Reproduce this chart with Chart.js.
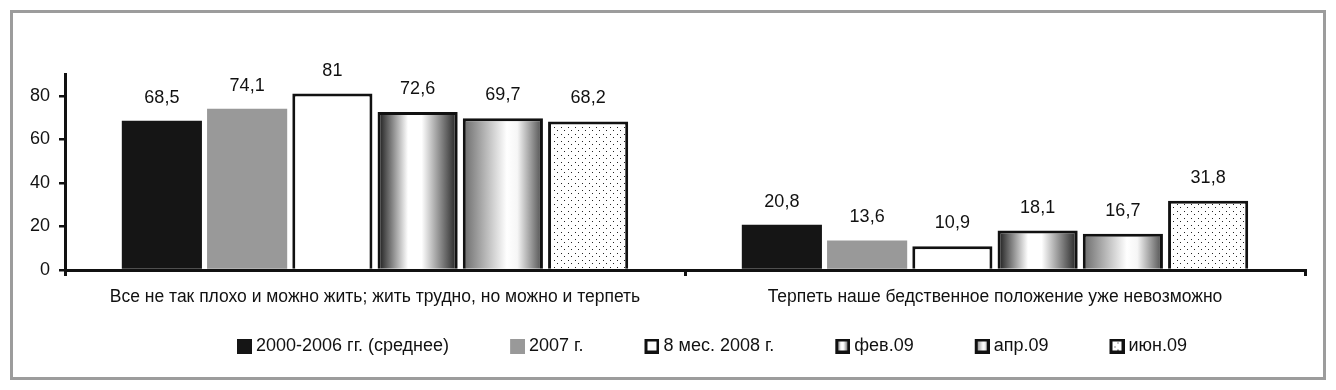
<!DOCTYPE html>
<html>
<head>
<meta charset="utf-8">
<script src="https://cdn.jsdelivr.net/npm/chart.js@4"></script>
<style>
  body { margin: 0; background: #fff; }
  #wrap { width: 1336px; height: 390px; }
</style>
</head>
<body>
<div id="wrap"><canvas id="chart" width="1336" height="390"></canvas></div>
<script>
// data
const categories = [
  "Все не так плохо и можно жить; жить трудно, но можно и терпеть",
  "Терпеть наше бедственное положение уже невозможно",
];
const seriesNames = ["2000-2006 гг. (среднее)", "2007 г.", "8 мес. 2008 г.", "фев.09", "апр.09", "июн.09"];
const avg2000to2006 = [68.5, 20.8];
const year2007 = [74.1, 13.6];
const months8of2008 = [81, 10.9];
const feb09 = [72.6, 18.1];
const apr09 = [69.7, 16.7];
const jun09 = [68.2, 31.8];
const yMin = 0;
const yMax = 90;
const yStep = 20;

const CAT_PCT = 0.825;
const BAR_PCT = 0.94;
const FONT = "'Liberation Sans', Arial, sans-serif";
const FS = 18;
const INK = "#111";

// gradient stops for the two shaded series
const febStops = [[0, "#141414"], [0.38, "#ffffff"], [0.55, "#ffffff"], [1, "#1e1e1e"]];
const aprStops = [[0, "#6a6a6a"], [0.55, "#ffffff"], [0.68, "#f6f6f6"], [1, "#4a4a4a"]];

function dotTile() {
  const c = document.createElement("canvas");
  c.width = 7;
  c.height = 7;
  const g = c.getContext("2d");
  g.fillStyle = "#fff";
  g.fillRect(0, 0, 7, 7);
  g.fillStyle = "#222";
  g.fillRect(1, 1, 1, 1);
  g.fillRect(4, 4, 1, 1);
  return c;
}
const dots = document.getElementById("chart").getContext("2d").createPattern(dotTile(), "repeat");

// horizontal gradient spread over each bar, bar position taken from the x scale
function barGradient(stops) {
  return function (context) {
    const chart = context.chart;
    const xs = chart.scales.x;
    if (!chart.chartArea || !xs || context.dataIndex === undefined) return stops[1][1];
    const catW = xs.width / categories.length;
    const groupW = catW * CAT_PCT;
    const slot = groupW / seriesNames.length;
    const barW = slot * BAR_PCT;
    const cx = xs.getPixelForValue(context.dataIndex) - groupW / 2 + slot * (context.datasetIndex + 0.5);
    const left = cx - barW / 2;
    if (!isFinite(left) || !(barW > 0)) return stops[1][1];
    const grad = chart.ctx.createLinearGradient(left, 0, left + barW, 0);
    stops.forEach((s) => grad.addColorStop(s[0], s[1]));
    return grad;
  };
}

// legend icons: a wide transparent canvas with the 15px swatch at its right end
const ICON_W = 74;
const ICON_BOX = 15;
function legendIcon(kind) {
  const c = document.createElement("canvas");
  c.width = ICON_W;
  c.height = ICON_BOX;
  const g = c.getContext("2d");
  const x0 = ICON_W - ICON_BOX;
  if (kind === 0) {
    g.fillStyle = "#151515";
    g.fillRect(x0, 0, ICON_BOX, ICON_BOX);
  } else if (kind === 1) {
    g.fillStyle = "#999";
    g.fillRect(x0, 0, ICON_BOX, ICON_BOX);
  } else {
    if (kind === 2) {
      g.fillStyle = "#fff";
    } else if (kind === 5) {
      g.fillStyle = g.createPattern(dotTile(), "repeat");
    } else {
      const grad = g.createLinearGradient(x0, 0, x0 + ICON_BOX, 0);
      (kind === 3 ? febStops : aprStops).forEach((s) => grad.addColorStop(s[0], s[1]));
      g.fillStyle = grad;
    }
    g.fillRect(x0, 0, ICON_BOX, ICON_BOX);
    g.strokeStyle = INK;
    g.lineWidth = 3;
    g.strokeRect(x0 + 1.5, 1.5, ICON_BOX - 3, ICON_BOX - 3);
  }
  return c;
}
const legendIcons = seriesNames.map((n, i) => legendIcon(i));

const frame = {
  id: "frame",
  beforeDraw(chart) {
    const ctx = chart.ctx;
    ctx.save();
    ctx.fillStyle = "#fff";
    ctx.fillRect(0, 0, chart.width, chart.height);
    ctx.strokeStyle = "#9c9c9c";
    ctx.lineWidth = 3;
    ctx.strokeRect(11.5, 11.5, 1313, 367);
    ctx.restore();
  },
};

const valueLabels = {
  id: "valueLabels",
  afterDatasetsDraw(chart) {
    const ctx = chart.ctx;
    ctx.save();
    ctx.font = FS + "px " + FONT;
    ctx.fillStyle = INK;
    ctx.textAlign = "center";
    ctx.textBaseline = "middle";
    chart.data.datasets.forEach((ds, i) => {
      chart.getDatasetMeta(i).data.forEach((bar, j) => {
        ctx.fillText(String(ds.data[j]).replace(".", ","), bar.x, bar.y - 23);
      });
    });
    ctx.restore();
  },
};

const seriesValues = [avg2000to2006, year2007, months8of2008, feb09, apr09, jun09];
const fills = ["#151515", "#999999", "#ffffff", barGradient(febStops), barGradient(aprStops), dots];
const borders = [0, 0, 3, 3, 3, 3];

new Chart(document.getElementById("chart"), {
  type: "bar",
  data: {
    labels: categories,
    datasets: seriesValues.map((vals, i) => ({
      label: seriesNames[i],
      data: vals,
      backgroundColor: fills[i],
      borderColor: INK,
      borderWidth: borders[i],
      borderSkipped: "bottom",
      categoryPercentage: CAT_PCT,
      barPercentage: BAR_PCT,
    })),
  },
  options: {
    responsive: false,
    animation: false,
    events: [],
    layout: { padding: { left: 0, right: 31, top: 74, bottom: 25 } },
    scales: {
      x: {
        offset: true,
        grid: { offset: true, drawOnChartArea: false, drawTicks: true, tickLength: 6, lineWidth: 3, color: INK },
        border: { display: true, color: INK, width: 3 },
        ticks: { color: INK, padding: 11, maxRotation: 0, autoSkip: false, font: { family: FONT, size: 17.5 } },
        afterFit(scale) {
          scale.height = 60;
        },
      },
      y: {
        min: yMin,
        max: yMax,
        grid: { drawOnChartArea: false, drawTicks: true, tickLength: 6, lineWidth: 2.5, color: INK },
        border: { display: true, color: INK, width: 3 },
        ticks: { stepSize: yStep, includeBounds: false, color: INK, padding: 9, font: { family: FONT, size: FS } },
        afterFit(scale) {
          scale.width = 65;
        },
      },
    },
    plugins: {
      tooltip: { enabled: false },
      legend: {
        position: "bottom",
        fullSize: false,
        labels: {
          usePointStyle: true,
          pointStyleWidth: 64,
          boxHeight: ICON_BOX,
          padding: 7,
          color: INK,
          font: { family: FONT, size: FS },
          generateLabels(chart) {
            return chart.data.datasets.map((ds, i) => ({
              text: ds.label,
              pointStyle: legendIcons[i],
              datasetIndex: i,
              hidden: false,
              lineWidth: 0,
              fontColor: INK,
            }));
          },
        },
      },
    },
  },
  plugins: [frame, valueLabels],
});
</script>
</body>
</html>
